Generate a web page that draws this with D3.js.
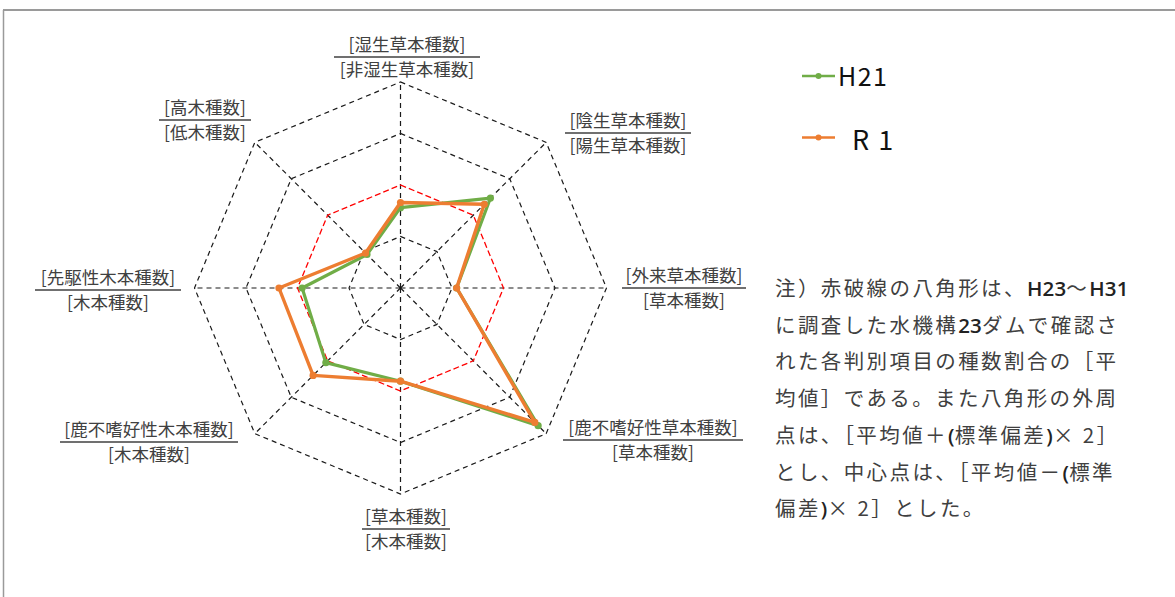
<!DOCTYPE html>
<html><head><meta charset="utf-8">
<script src="https://cdn.jsdelivr.net/npm/d3@7"></script>
<style>
html,body{margin:0;padding:0;background:#fff;}
svg{display:block;}
text{font-family:"Noto Sans CJK JP","Noto Sans",sans-serif;}
</style></head>
<body>
<svg id="c" width="1175" height="597"></svg>
<script>
// Axes (clockwise from top): numerator / denominator
const numerators = ["[湿生草本種数]","[陰生草本種数]","[外来草本種数]","[鹿不嗜好性草本種数]","[草本種数]","[鹿不嗜好性木本種数]","[先駆性木本種数]","[高木種数]"];
const denominators = ["[非湿生草本種数]","[陽生草本種数]","[草本種数]","[草本種数]","[木本種数]","[木本種数]","[木本種数]","[低木種数]"];
// Values in units of standard deviation from the 23-dam mean (center = -2σ, outer = +2σ)
const seriesNames = ["H21","R 1"];
const h21 = [-0.44, 0.47, -0.91, 1.78, -0.19, 0.05, -0.09, -1.08];
const r1  = [-0.34, 0.30, -0.91, 1.69, -0.19, 0.40, 0.36, -1.04];
const gridLevels = [-1, 1, 2];
const meanLevel = 0;
// note lines; segments wrapped in {} are Latin runs
const noteLines = [
  "注）赤破線の八角形は、{H23}～{H31}",
  "に調査した水機構{23}ダムで確認さ",
  "れた各判別項目の種数割合の［平",
  "均値］である。また八角形の外周",
  "点は、［平均値＋{(}標準偏差{)}× 2］",
  "とし、中心点は、［平均値－{(}標準",
  "偏差{)}× 2］とした。"
];

const svg = d3.select("#c");
const cx = 400.5, cy = 288, R = 206;
const n = numerators.length;
const r = d3.scaleLinear().domain([-2, 2]).range([0, R]);
const ang = d3.scaleLinear().domain([0, n]).range([0, 2*Math.PI]);
const pt = (i, v) => [cx + r(v)*Math.sin(ang(i)), cy - r(v)*Math.cos(ang(i))];

// frame
svg.append("line").attr("x1",3).attr("x2",1175).attr("y1",10).attr("y2",10).attr("stroke","#9a9a9a").attr("stroke-width",2);
svg.append("line").attr("x1",3.5).attr("x2",3.5).attr("y1",10).attr("y2",597).attr("stroke","#9a9a9a").attr("stroke-width",1.5);

const g = svg.append("g");
const ring = lvl => d3.range(n).map(i => pt(i, lvl));
gridLevels.forEach(l => {
  g.append("polygon").attr("points", ring(l).map(p=>p.join(",")).join(" "))
   .attr("fill","none").attr("stroke","#1a1a1a").attr("stroke-width",1.2).attr("stroke-dasharray","5,4");
});
d3.range(n).forEach(i => {
  const p = pt(i, 2);
  g.append("line").attr("x1",cx).attr("y1",cy).attr("x2",p[0]).attr("y2",p[1])
   .attr("stroke","#1a1a1a").attr("stroke-width",1.2).attr("stroke-dasharray","5,4");
});
g.append("polygon").attr("points", ring(meanLevel).map(p=>p.join(",")).join(" "))
 .attr("fill","none").attr("stroke","#ff0000").attr("stroke-width",1.3).attr("stroke-dasharray","6,3");

const line = d3.line().curve(d3.curveLinearClosed);
const drawSeries = (vals, color, w, rad) => {
  const pts = vals.map((v,i)=>pt(i,v));
  g.append("path").attr("d", line(pts)).attr("fill","none").attr("stroke",color)
   .attr("stroke-width",w).attr("stroke-linejoin","round");
  g.selectAll(null).data(pts).enter().append("circle")
   .attr("cx",d=>d[0]).attr("cy",d=>d[1]).attr("r",rad).attr("fill",color);
};
drawSeries(h21, "#70ad47", 3.2, 3.6);
drawSeries(r1, "#ed7d31", 3.4, 3.6);

// axis labels (fractions)
const labelPos = [[407,57,146],[628,133,126],[684,288,124],[653,440,180],[406,529,88],[149,442,178],[108,290,146],[205,120,92]];
labelPos.forEach((lp,i) => {
  const [x,y,w] = lp;
  svg.append("text").attr("x",x).attr("y",y-6).attr("text-anchor","middle")
    .attr("font-size",17.5).attr("fill","#404040").text(numerators[i]);
  svg.append("line").attr("x1",x-w/2).attr("x2",x+w/2).attr("y1",y).attr("y2",y)
    .attr("stroke","#404040").attr("stroke-width",1.3);
  svg.append("text").attr("x",x).attr("y",y+19).attr("text-anchor","middle")
    .attr("font-size",17.5).attr("fill","#404040").text(denominators[i]);
});

// legend
const legColors = ["#70ad47","#ed7d31"];
const legY = [76, 137.5];
const legTX = [838, 852];
const legDy = [9.5, 12.5];
const legFs = [25, 27];
seriesNames.forEach((s,i)=>{
  svg.append("line").attr("x1",802).attr("x2",835).attr("y1",legY[i]).attr("y2",legY[i])
    .attr("stroke",legColors[i]).attr("stroke-width",2.5);
  svg.append("circle").attr("cx",818.5).attr("cy",legY[i]).attr("r",3).attr("fill",legColors[i]);
  svg.append("text").attr("x",legTX[i]).attr("y",legY[i]+legDy[i]).attr("font-size",legFs[i])
    .attr("letter-spacing",1.5).attr("fill","#111").text(s);
});

// note
noteLines.forEach((t,i)=>{
  const tx = svg.append("text").attr("x",775).attr("y",296+i*36.7).attr("font-size",20.5).attr("fill","#404040");
  t.split(/(\{[^}]*\})/).filter(s=>s.length).forEach(seg=>{
    if (seg[0]==="{") {
      tx.append("tspan").attr("font-family","'Open Sans',sans-serif").attr("font-weight",600)
        .attr("letter-spacing",0.2).attr("fill","#222").text(seg.slice(1,-1));
    } else {
      tx.append("tspan").attr("letter-spacing",2.4).text(seg);
    }
  });
});
</script>
</body></html>
